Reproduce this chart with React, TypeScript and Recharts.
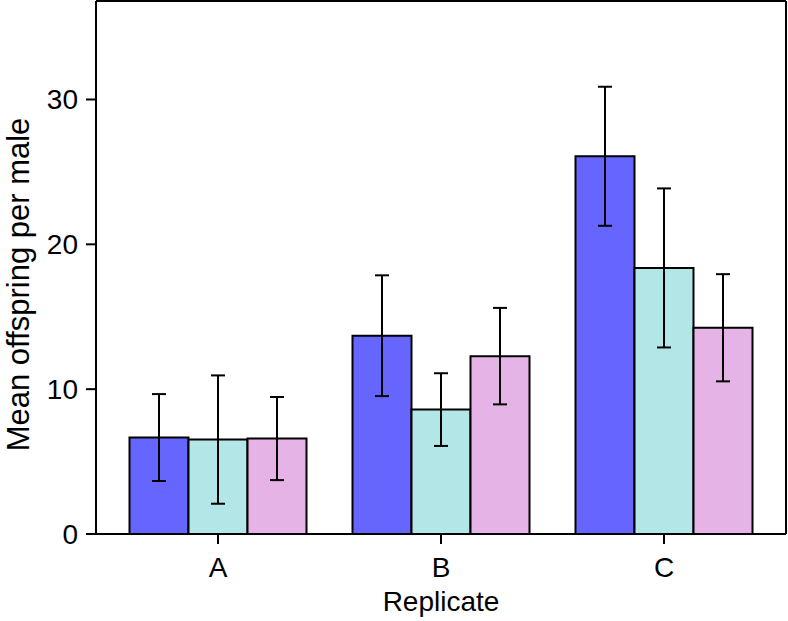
import React from 'react';
import { BarChart, Bar, XAxis, YAxis, ErrorBar } from 'recharts';

const categories = ['A', 'B', 'C'];
const blueMean = [6.66, 13.69, 26.08];
const blueErr = [3.0, 4.17, 4.8];
const cyanMean = [6.52, 8.59, 18.37];
const cyanErr = [4.43, 2.51, 5.49];
const pinkMean = [6.59, 12.28, 14.24];
const pinkErr = [2.87, 3.33, 3.7];
const yTicks = [0, 10, 20, 30];

const data = categories.map((c, i) => ({
  name: c,
  blue: blueMean[i],
  blueE: blueErr[i],
  cyan: cyanMean[i],
  cyanE: cyanErr[i],
  pink: pinkMean[i],
  pinkE: pinkErr[i],
}));

const FONT = '"Liberation Sans", Arial, Helvetica, sans-serif';
const tickStyle = { fill: '#000', fontSize: 28, fontFamily: FONT };

const YLabel = (props: any) => {
  const vb = props.viewBox || { x: 0, y: 0, width: 96, height: 533 };
  const cx = vb.x + 18;
  const cy = vb.y + vb.height / 2 + 17;
  return (
    <text
      x={cx}
      y={cy}
      transform={`rotate(-90, ${cx}, ${cy})`}
      textAnchor="middle"
      dominantBaseline="central"
      fill="#000"
      fontSize={31}
      fontFamily={FONT}
    >
      Mean offspring per male
    </text>
  );
};

export default function App() {
  return (
    <div style={{ position: 'absolute', left: 0, top: 0, width: 788, height: 621, background: '#fff' }}>
      <BarChart
        width={788}
        height={621}
        data={data}
        margin={{ top: 0, right: 1, bottom: 0, left: 0 }}
        barCategoryGap={23}
        barGap={0}
      >
        <XAxis
          dataKey="name"
          height={87}
          padding={{ left: 10.5, right: 10.5 }}
          axisLine={{ stroke: '#000', strokeWidth: 2 }}
          tickLine={{ stroke: '#000', strokeWidth: 2 }}
          tickSize={10}
          tickMargin={13}
          tick={tickStyle}
          label={{ value: 'Replicate', position: 'insideBottom', offset: 10, style: { fill: '#000', fontSize: 28, fontFamily: FONT } }}
        />
        <XAxis
          xAxisId="top"
          dataKey="name"
          orientation="top"
          height={1}
          tick={false}
          tickLine={false}
          axisLine={{ stroke: '#000', strokeWidth: 2 }}
        />
        <YAxis
          width={96}
          domain={[0, 36.8]}
          ticks={yTicks}
          allowDataOverflow
          axisLine={{ stroke: '#000', strokeWidth: 2 }}
          tickLine={{ stroke: '#000', strokeWidth: 2 }}
          tickSize={10}
          tickMargin={8}
          tick={tickStyle}
          label={<YLabel />}
        />
        <YAxis
          yAxisId="right"
          orientation="right"
          width={1}
          domain={[0, 36.8]}
          tick={false}
          tickLine={false}
          axisLine={{ stroke: '#000', strokeWidth: 2 }}
        />
        <Bar dataKey="blue" fill="#6666ff" stroke="#000" strokeWidth={2} isAnimationActive={false}>
          <ErrorBar dataKey="blueE" width={7} stroke="#000" strokeWidth={2} isAnimationActive={false} />
        </Bar>
        <Bar dataKey="cyan" fill="#b3e6e6" stroke="#000" strokeWidth={2} isAnimationActive={false}>
          <ErrorBar dataKey="cyanE" width={7} stroke="#000" strokeWidth={2} isAnimationActive={false} />
        </Bar>
        <Bar dataKey="pink" fill="#e6b3e6" stroke="#000" strokeWidth={2} isAnimationActive={false}>
          <ErrorBar dataKey="pinkE" width={7} stroke="#000" strokeWidth={2} isAnimationActive={false} />
        </Bar>
      </BarChart>
    </div>
  );
}
